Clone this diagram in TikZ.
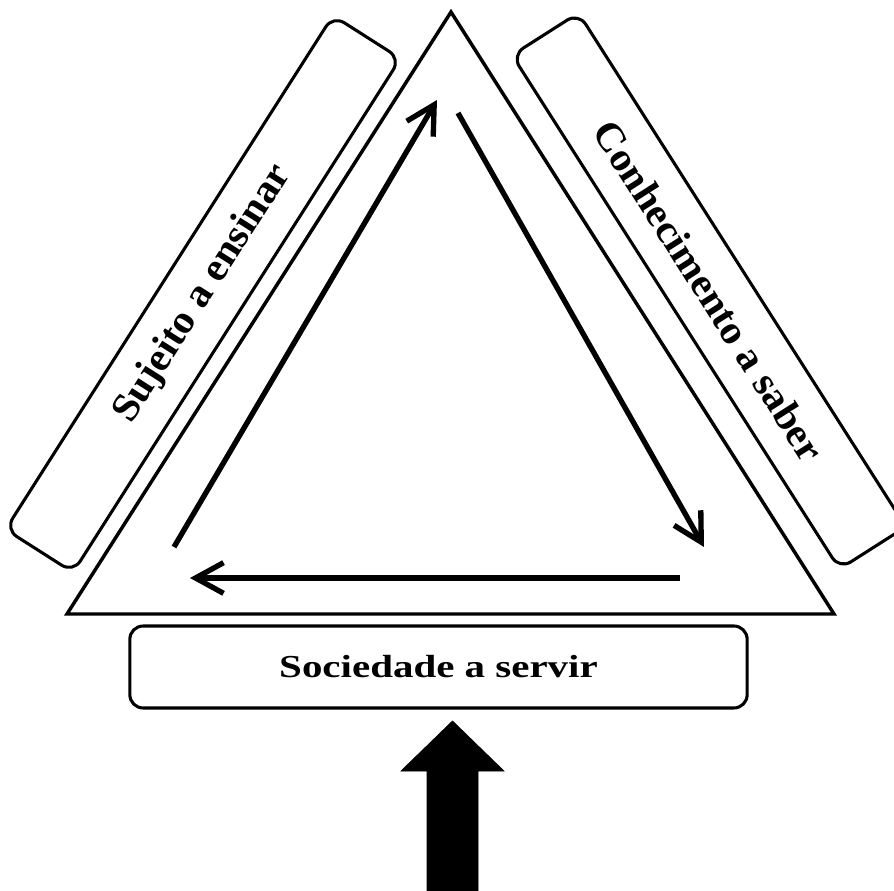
\documentclass[tikz,border=0pt]{standalone}
\usepackage{fontspec}
\usepackage{graphicx}
\setmainfont{Liberation Serif}
\usetikzlibrary{arrows.meta}
\tikzset{
  tri/.style={line width=2.6pt, line join=miter},
  labelbox/.style={draw, line width=2.3pt, rounded corners=10pt, inner sep=0pt, font=\bfseries\fontsize{24}{28}\selectfont},
  sidebox/.style={labelbox, font=\bfseries\fontsize{30}{34}\selectfont},
  flow/.style={line width=4pt, -{Straight Barb[length=21pt, width=23pt, line width=4pt]}},
  bigarrow/.style={fill=black, draw=black, line width=0.5pt}
}
\newcommand{\wide}[1]{\scalebox{1.28}[1]{#1}}
\newcommand{\slwide}[1]{\scalebox{1.04}[1]{#1}}
\begin{document}
\begin{tikzpicture}[x=0.75pt,y=-0.75pt]
\useasboundingbox (0,0) rectangle (894,891);
% triangle
\coordinate (apex) at (451,12);
\coordinate (bl) at (67,614);
\coordinate (br) at (834,614);
\draw[tri] (apex) -- (bl) -- (br) -- cycle;
% side boxes
\node[sidebox, minimum width=457pt, minimum height=60pt, rotate=57.5] (left) at (203,294) {\slwide{Sujeito a ensinar}};
\node[sidebox, minimum width=457pt, minimum height=59pt, rotate=-57.5] (right) at (709,291) {\slwide{Conhecimento a saber}};
\node[labelbox, minimum width=463pt, minimum height=61.5pt] (bottom) at (438.5,667) {\wide{Sociedade a servir}};
% flow arrows
\coordinate (l1) at (174,547);
\coordinate (l2) at (437,100);
\coordinate (r1) at (458,113);
\coordinate (r2) at (704,547);
\coordinate (b1) at (680,578);
\coordinate (b2) at (190,578);
\draw[flow] (l1) -- (l2);
\draw[flow] (r1) -- (r2);
\draw[flow] (b1) -- (b2);
% big block arrow
\coordinate (t) at (452.5,721);
\draw[bigarrow] (427,891) -- (427,771) -- (401,771) -- (t) -- (504,771) -- (478,771) -- (478,891) -- cycle;
\end{tikzpicture}
\end{document}
